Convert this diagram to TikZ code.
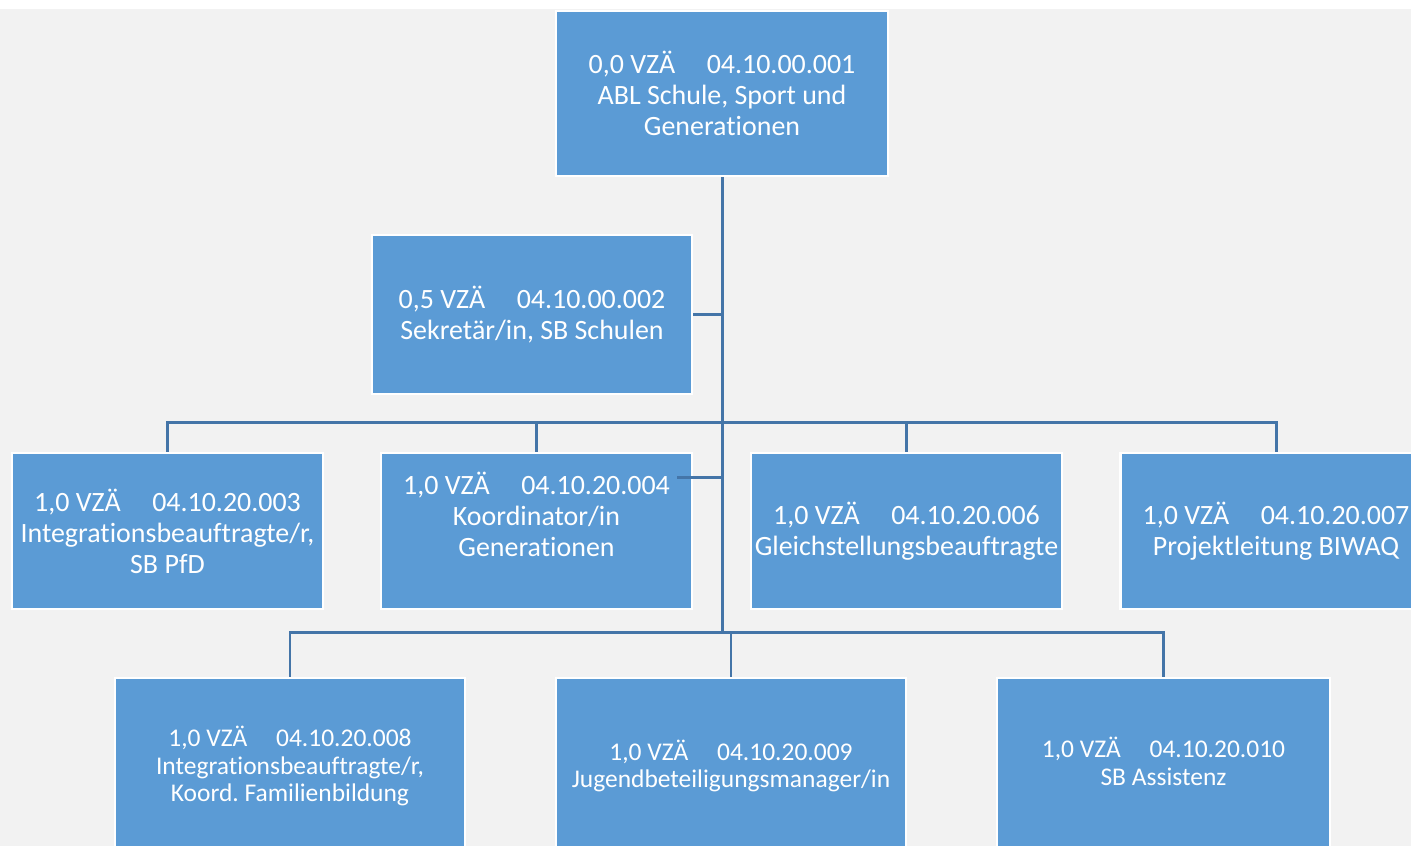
\documentclass[tikz,border=0pt]{standalone}
\usepackage{fontspec}
\setmainfont{Carlito}[RawFeature={-liga;-clig;-calt}]
\usepackage{xcolor}
\usetikzlibrary{positioning}

\definecolor{boxblue}{HTML}{5B9BD5}
\definecolor{lineblue}{RGB}{68,117,168}
\definecolor{bggray}{HTML}{F2F2F2}

\newcommand{\vza}[2]{#1 VZÄ\hspace{1.13em}#2}
\frenchspacing

\begin{document}
\begin{tikzpicture}[
    box/.style={draw=white, line width=1.5pt, fill=boxblue, text=white, align=center,
      inner sep=0pt, minimum width=6.22cm, minimum height=3.12cm,
      font=\fontsize{15.9}{17.6}\selectfont},
    lowbox/.style={box, minimum width=7cm, minimum height=3.52cm,
      font=\fontsize{14.5}{15.9}\selectfont},
    boxtext/.style={text=white, align=center, inner sep=0pt,
      font=\fontsize{15.9}{17.6}\selectfont},
    link/.style={draw=lineblue, line width=1.7pt}
  ]

        % Page and background
        \useasboundingbox (0,0) rectangle (28.22,16.92);
        \clip (0,0) rectangle (28.22,16.92);
        \fill[white] (0,0) rectangle (28.22,16.92);
        \fill[bggray] (0,0) rectangle (28.22,16.74);

        % Head and secretary
        \node[box, minimum width=6.64cm, minimum height=3.30cm] (Leitung) at (14.44,15.05)
          {\vza{0,0}{04.10.00.001}\\ABL Schule, Sport und\\Generationen};
        \node[box, minimum width=6.40cm, minimum height=3.18cm] (Sekretariat) at (10.64,10.63)
          {\vza{0,5}{04.10.00.002}\\Sekretär/in, SB Schulen};

        % Second row
        \node[box] (Integration) at (3.35,6.30)
          {\vza{1,0}{04.10.20.003}\\Integrationsbeauftragte/r,\\SB PfD};
        \node[box] (Koordinator) at (10.73,6.30) {};
        \node[boxtext] (KoordinatorText) at ([yshift=0.34cm]Koordinator.center)
          {\vza{1,0}{04.10.20.004}\\Koordinator/in\\Generationen};
        \node[box] (Gleichstellung) at (18.13,6.30)
          {\vza{1,0}{04.10.20.006}\\Gleichstellungsbeauftragte};
        \node[box] (Projektleitung) at (25.52,6.30)
          {\vza{1,0}{04.10.20.007}\\Projektleitung BIWAQ};

        % Third row
        \node[lowbox] (Familienbildung) at (5.80,1.60)
          {\vza{1,0}{04.10.20.008}\\Integrationsbeauftragte/r,\\Koord. Familienbildung};
        \node[lowbox] (Jugend) at (14.62,1.60)
          {\vza{1,0}{04.10.20.009}\\Jugendbeteiligungsmanager/in};
        \node[lowbox, minimum width=6.66cm] (Assistenz) at (23.27,1.60) {};
        \node[boxtext, font=\fontsize{14.5}{15.9}\selectfont] (AssistenzText)
          at ([yshift=0.1cm]Assistenz.center) {\vza{1,0}{04.10.20.010}\\SB Assistenz};

        % Connectors
        \coordinate (BarTwo) at (14.44,8.46);
        \coordinate (BarThree) at (14.44,4.26);
        \coordinate (KoordStab) at ([shift={(-0.32,1.06)}]Koordinator.east);

        \draw[link] (Leitung.south) -- (Leitung.south |- BarThree);
        \draw[link] (Sekretariat.east) -- (Sekretariat.east -| Leitung.south);
        \draw[link] (KoordStab) -- (KoordStab -| Leitung.south);

        \draw[link] (Integration.north) |- (BarTwo);
        \draw[link] (Projektleitung.north) |- (BarTwo);
        \draw[link] (Koordinator.north) -- (Koordinator.north |- BarTwo);
        \draw[link] (Gleichstellung.north) -- (Gleichstellung.north |- BarTwo);

        \draw[link] (Familienbildung.north) |- (BarThree);
        \draw[link] (Assistenz.north) |- (BarThree);
        \draw[link] (Jugend.north) -- (Jugend.north |- BarThree);

      \end{tikzpicture}
\end{document}
